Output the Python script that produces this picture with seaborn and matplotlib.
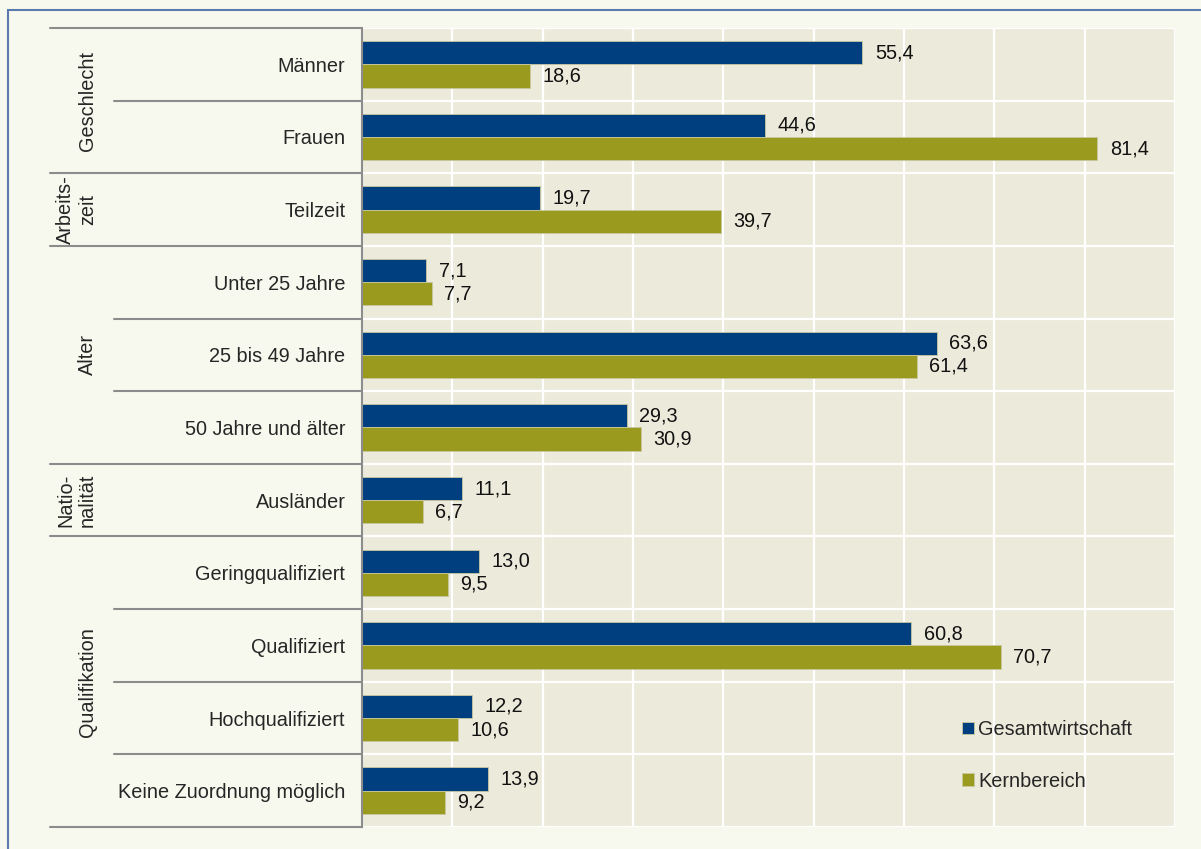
import pandas as pd
import matplotlib
matplotlib.use("Agg")
import matplotlib.pyplot as plt
import matplotlib.transforms as mtransforms
from matplotlib.lines import Line2D
from matplotlib.patches import Rectangle
import seaborn as sns

# data
categories = ["Männer", "Frauen", "Teilzeit", "Unter 25 Jahre", "25 bis 49 Jahre",
              "50 Jahre und älter", "Ausländer", "Geringqualifiziert", "Qualifiziert",
              "Hochqualifiziert", "Keine Zuordnung möglich"]
gesamt = [55.4, 44.6, 19.7, 7.1, 63.6, 29.3, 11.1, 13.0, 60.8, 12.2, 13.9]
kern = [18.6, 81.4, 39.7, 7.7, 61.4, 30.9, 6.7, 9.5, 70.7, 10.6, 9.2]
series = ["Gesamtwirtschaft", "Kernbereich"]
groups = ["Geschlecht", "Arbeits-\nzeit", "Alter", "Natio-\nnalität", "Qualifikation"]
group_rows = [(0, 1), (2, 2), (3, 5), (6, 6), (7, 10)]

df = pd.DataFrame({
    "Kategorie": categories * 2,
    "Wert": gesamt + kern,
    "Serie": [series[0]] * len(categories) + [series[1]] * len(categories),
})

sns.set_style("white")
plt.rcParams["font.family"] = ["Liberation Sans", "DejaVu Sans"]
fs = 14.3

W, H = 1201, 849
fig = plt.figure(figsize=(W / 100, H / 100), dpi=100)
fig.patch.set_facecolor("#F8F9EE")
ax = fig.add_axes([362 / W, 1 - 827 / H, (1175 - 362) / W, (827 - 28) / H])
ax.set_facecolor("#ECEADB")

blue, olive = "#003F7F", "#9A9A1F"
sns.barplot(data=df, y="Kategorie", x="Wert", hue="Serie", orient="h",
            palette=[blue, olive], width=0.64, saturation=1, ax=ax,
            edgecolor="#C8C8A0", linewidth=0.6)

ax.set_xlim(0, 90)
ax.set_ylim(10.5, -0.5)
ax.set_xticks(range(0, 91, 10))
ax.set_xticklabels([])
ax.set_yticks(range(len(categories)))
ax.set_yticklabels(categories, fontsize=fs)
ax.set_yticks([i + 0.5 for i in range(-1, len(categories))], minor=True)
ax.tick_params(axis="both", which="both", length=0)
ax.tick_params(axis="y", pad=12)
ax.set_xlabel("")
ax.set_ylabel("")
ax.grid(axis="x", color="white", linewidth=1.6)
ax.grid(axis="y", which="minor", color="white", linewidth=1.6)
ax.set_axisbelow(True)
for s in ["top", "right", "bottom"]:
    ax.spines[s].set_visible(False)
ax.spines["left"].set_color("#8C8C8C")
ax.spines["left"].set_linewidth(1.5)

# value labels with comma
for cont, vals in zip(ax.containers, [gesamt, kern]):
    ax.bar_label(cont, labels=[f"{v:.1f}".replace(".", ",") for v in vals],
                 padding=9, fontsize=fs, color="#111111")

# category table on the left
tr = mtransforms.blended_transform_factory(fig.transFigure, ax.transData)
x0, x1, x_end = 50 / W, 114 / W, 362 / W
group_edges = sorted({r[0] - 0.5 for r in group_rows} | {r[1] + 0.5 for r in group_rows})
for i in range(len(categories) + 1):
    yb = i - 0.5
    start = x0 if yb in group_edges else x1
    fig.add_artist(Line2D([start, x_end], [yb, yb], transform=tr,
                          color="#8C8C8C", linewidth=1.5, clip_on=False))

for name, (a, b) in zip(groups, group_rows):
    fig.text(97 / W, (a + b) / 2, name, transform=tr, rotation=90,
             ha="right", va="center", multialignment="center", fontsize=fs)

# legend
handles, labels = ax.get_legend_handles_labels()
ax.legend(handles, labels, loc="upper left", bbox_to_anchor=(962 / W, 1 - 720 / H),
          bbox_transform=fig.transFigure, frameon=False, fontsize=fs,
          handlelength=0.6, handleheight=0.6, handletextpad=0.2,
          labelspacing=1.65, borderpad=0, borderaxespad=0)

# blue frame around the figure
fig.add_artist(Rectangle((8 / W, -0.1), 1.2, 1.1 - 10 / H, transform=fig.transFigure,
                         fill=False, edgecolor="#5B7BAF", linewidth=1.5))

fig.savefig("out.png", dpi=100, facecolor=fig.get_facecolor())
